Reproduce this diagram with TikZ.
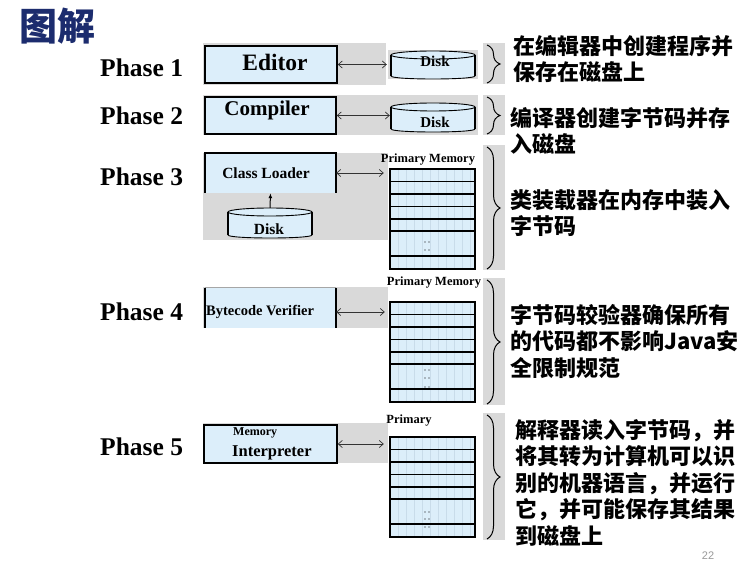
\documentclass[tikz,border=0pt]{standalone}
\usepackage{fontspec}
\setmainfont{Liberation Serif}
\newfontfamily\cjk{Noto Sans CJK SC}
\newfontfamily\sansf{Liberation Sans}
\usetikzlibrary{decorations.pathreplacing,arrows.meta}
\definecolor{lblue}{HTML}{DCEEFA}
\definecolor{gridc}{HTML}{C9DCEA}
\definecolor{bggray}{HTML}{D9D9D9}
\definecolor{navy}{HTML}{1C2C6E}
\newcommand\memrows[1]{%
  \fill[lblue] (390,#1) rectangle (475,#1+100);
  \foreach \xx in {398,406,...,470} \draw[gridc, line width=0.3pt] (\xx,#1) -- (\xx,#1+100);
  \foreach \yy in {12.5,25,37.5,50,62,87} \draw[line width=1.4pt] (390,#1+\yy) -- (475,#1+\yy);
  \draw[line width=1.6pt] (390,#1) rectangle (475,#1+100);
}
\newcommand\diskdraw[3]{% cx, top, bottom
  \fill[lblue] (#1-42,#2) rectangle (#1+42,#3);
  \fill[lblue] (#1,#3) ellipse [x radius=42, y radius=3];
  \draw[line width=0.9pt] (#1-42,#3) .. controls (#1-42,#3+4) and (#1+42,#3+4) .. (#1+42,#3);
  \draw[line width=1.3pt] (#1-42,#2) -- (#1-42,#3);
  \draw[line width=1.3pt] (#1+42,#2) -- (#1+42,#3);
  \draw[line width=0.9pt, fill=lblue] (#1,#2) ellipse [x radius=42, y radius=4];
}
\tikzset{
  phase/.style={anchor=west, inner sep=0pt, font=\bfseries\fontsize{25.5}{25.5}\selectfont},
  boxfill/.style={fill=lblue, inner sep=0pt},
  boxfull/.style={boxfill, draw, line width=1.5pt},
  lbl/.style={inner sep=0pt, font=\bfseries},
  cn/.style={anchor=north west, inner sep=0pt, align=left, font=\cjk\bfseries\fontsize{22}{26.5}\selectfont},
  pm/.style={inner sep=0pt, font=\bfseries\fontsize{12.5}{12.5}\selectfont},
  dbl/.style={{Straight Barb[length=4pt,width=7pt]}-{Straight Barb[length=4pt,width=7pt]}, line width=0.7pt, black!80},
  bracestyle/.style={decorate, decoration={brace, amplitude=13pt}, line width=1pt},
  area/.style={inner sep=0pt, draw=none}
}
\begin{document}
\begin{tikzpicture}[x=1pt,y=-1pt]
\useasboundingbox (0,0) rectangle (752,569);
\fill[white] (0,0) rectangle (752,569);
% gray backgrounds
\fill[bggray] (203,43) rectangle (386,85);
\fill[bggray] (388,50) rectangle (478,79);
\fill[bggray] (483,43) rectangle (505,84);
\fill[bggray] (203,95) rectangle (478,135);
\fill[bggray] (483,95) rectangle (505,135);
\fill[bggray] (203,153) rectangle (388,240);
\fill[bggray] (483,145) rectangle (505,270);
\fill[bggray] (203,287) rectangle (388,328);
\fill[bggray] (483,278) rectangle (505,405);
\fill[bggray] (203,423) rectangle (388,463);
\fill[bggray] (483,413) rectangle (505,540);

% title
\node[anchor=west, inner sep=0pt, text=navy, font=\cjk\bfseries\fontsize{38}{38}\selectfont] (title) at (19,26) {图解};

% phase labels
\node[phase] (ph1) at (100,68) {Phase 1};
\node[phase] (ph2) at (100,116) {Phase 2};
\node[phase] (ph3) at (100,177) {Phase 3};
\node[phase] (ph4) at (100,312) {Phase 4};
\node[phase] (ph5) at (100,447) {Phase 5};

% Phase 1
\node[boxfull, minimum width=132pt, minimum height=37pt] (editor) at (271,64.5) {};
\node[lbl, font=\bfseries\fontsize{23.5}{23.5}\selectfont] (editorT) at (275,62) {Editor};
\diskdraw{433}{55}{76}
\node[area, minimum width=84pt, minimum height=26pt] (disk1) at (433,65) {};
\node[lbl, font=\bfseries\fontsize{15}{15}\selectfont] (disk1T) at (435,61) {Disk};
\draw[dbl, shorten >=4pt] (editor.east) -- (editor.east -| disk1.west);

% Phase 2
\node[boxfull, minimum width=131pt, minimum height=37pt] (compiler) at (270.5,115.5) {};
\node[lbl, font=\bfseries\fontsize{21}{21}\selectfont] (compilerT) at (267,110) {Compiler};
\diskdraw{433}{107}{129}
\node[area, minimum width=84pt, minimum height=26pt] (disk2) at (433,117.5) {};
\node[lbl, font=\bfseries\fontsize{15}{15}\selectfont] (disk2T) at (435,122) {Disk};
\draw[dbl, shorten >=1pt] (compiler.east) -- (compiler.east -| disk2.west);

% Phase 3
\node[boxfill, minimum width=131pt, minimum height=40pt] (loader) at (270.5,173) {};
\draw[line width=1.5pt] (loader.south west) -- (loader.north west) -- (loader.north east) -- (loader.south east);
\node[lbl, font=\bfseries\fontsize{15.5}{15.5}\selectfont] (loaderT) at (266,173) {Class Loader};
\diskdraw{270}{212}{235}
\node[area, minimum width=86pt, minimum height=29pt] (disk3) at (270,222.5) {};
\node[lbl, font=\bfseries\fontsize{15.5}{15.5}\selectfont] (disk3T) at (269,229) {Disk};
\draw[-{Latex[length=5pt,width=4pt]}, line width=1pt] (disk3.north) -- (loader.south);
\node[pm] (pm3) at (428,160) {Primary Memory};
\memrows{169}
\node[area, minimum width=85pt, minimum height=100pt] (mem3) at (432.5,219) {};
\foreach \yy in {242,250} {\fill (425,\yy) circle (0.7); \fill (429,\yy) circle (0.7);}
\draw[dbl, shorten >=6pt] (loader.east) -- (loader.east -| mem3.west);

% Phase 4
\node[boxfill, minimum width=131pt, minimum height=40pt] (verifier) at (270.5,308) {};
\draw[black!35, line width=0.6pt] (verifier.north west) -- (verifier.north east);
\draw[line width=1.5pt] (verifier.north west) -- (verifier.south west);
\draw[line width=1.5pt] (verifier.north east) -- (verifier.south east);
\node[lbl, anchor=west, font=\bfseries\fontsize{14.5}{14.5}\selectfont] (verifierT) at (206,312) {Bytecode Verifier};
\node[pm] (pm4) at (434,283) {Primary Memory};
\memrows{302}
\node[area, minimum width=85pt, minimum height=100pt] (mem4) at (432.5,352) {};
\foreach \yy in {370,378,387} {\fill (425,\yy) circle (0.7); \fill (429,\yy) circle (0.7);}
\draw[dbl, shorten >=5pt] ([yshift=-4pt]verifier.east) -- ([yshift=-4pt]verifier.east -| mem4.west);

% Phase 5
\node[boxfull, minimum width=133pt, minimum height=38pt] (interp) at (270.5,444) {};
\node[lbl, font=\bfseries\fontsize{12}{12}\selectfont, anchor=west] (memT) at (233,433) {Memory};
\node[lbl, font=\bfseries\fontsize{16.5}{16.5}\selectfont, anchor=west] (interpT) at (232,453) {Interpreter};
\node[pm] (pm5) at (409,421) {Primary};
\memrows{437}
\node[area, minimum width=85pt, minimum height=100pt] (mem5) at (432.5,487) {};
\foreach \yy in {512,519,527} {\fill (425,\yy) circle (0.7); \fill (429,\yy) circle (0.7);}
\draw[dbl, shorten >=6pt] (interp.east) -- (interp.east -| mem5.west);

% braces
\draw[bracestyle] (487,45) -- (487,83);
\draw[bracestyle] (487,97) -- (487,134);
\draw[bracestyle] (487,147) -- (487,269);
\draw[bracestyle] (487,280) -- (487,404);
\draw[bracestyle] (487,415) -- (487,539);

% Chinese descriptions
\node[cn] (t1) at (513,35) {在编辑器中创建程序并\\保存在磁盘上};
\node[cn] (t2) at (510,107) {编译器创建字节码并存\\入磁盘};
\node[cn] (t3) at (510,189) {类装载器在内存中装入\\字节码};
\node[cn] (t4) at (510,304) {字节码较验器确保所有\\的代码都不影响Java安\\全限制规范};
\node[cn] (t5) at (515,419) {解释器读入字节码，并\\将其转为计算机可以识\\别的机器语言，并运行\\它，并可能保存其结果\\到磁盘上};

% page number
\node[inner sep=0pt, text=black!40, font=\sansf\fontsize{11}{11}\selectfont] (pg) at (708,556) {22};
\end{tikzpicture}
\end{document}
